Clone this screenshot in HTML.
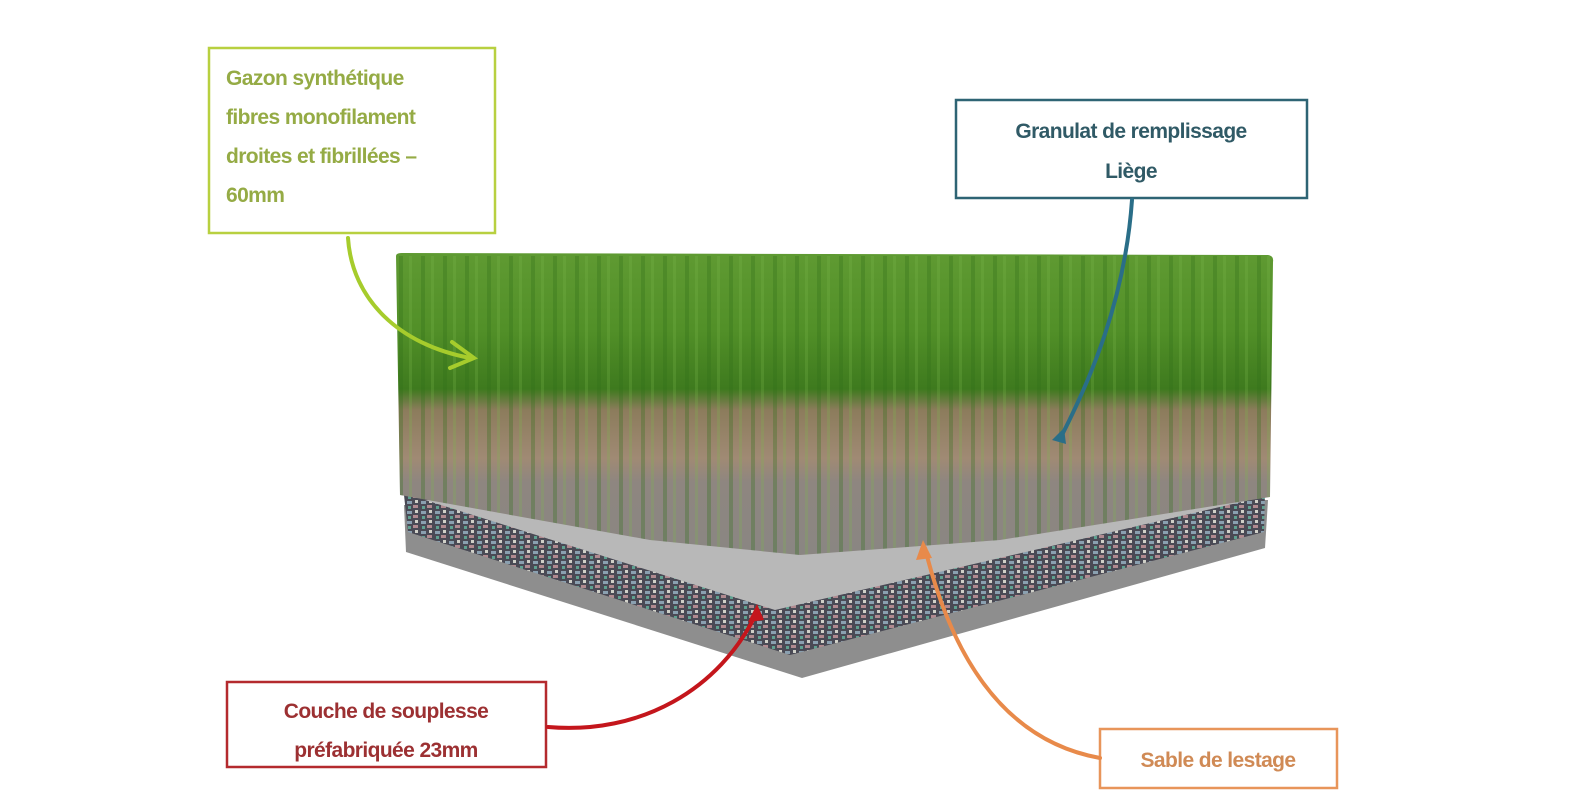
<!DOCTYPE html>
<html><head><meta charset="utf-8"><style>
html,body{margin:0;padding:0;background:#fff;}
svg{display:block;}
text{font-family:"Liberation Sans",sans-serif;font-weight:bold;}
</style></head><body>
<svg width="1592" height="806" viewBox="0 0 1592 806" xmlns="http://www.w3.org/2000/svg">
<defs>
<linearGradient id="g" x1="0" y1="0" x2="0" y2="1">
<stop offset="0" stop-color="#5f9a32"/>
<stop offset="0.25" stop-color="#529028"/>
<stop offset="0.45" stop-color="#3e7a1e"/>
<stop offset="0.52" stop-color="#8c7c5c"/>
<stop offset="0.68" stop-color="#a08a74"/>
<stop offset="0.76" stop-color="#8e8680"/>
<stop offset="1" stop-color="#8a8682"/>
</linearGradient>
<pattern id="blades" width="22" height="300" patternUnits="userSpaceOnUse">
<rect x="3" y="0" width="4" height="300" fill="#2f6e18" opacity="0.3"/>
<rect x="13" y="0" width="3" height="300" fill="#7cb84a" opacity="0.25"/>
</pattern>
<pattern id="speck" width="14" height="10" patternUnits="userSpaceOnUse">
<rect width="14" height="10" fill="#4a4a55"/>
<rect x="1" y="1" width="5" height="3" fill="#8aa0b0"/>
<rect x="7" y="5" width="5" height="3" fill="#b08a90"/>
<rect x="2" y="6" width="3" height="3" fill="#5fa090"/>
<rect x="9" y="0" width="3" height="3" fill="#d0d0c8"/>
</pattern>
</defs>
<polygon points="404,505 1268,500 1265,548 802,678 406,552" fill="#8e8e8e"/>
<polygon points="404,495 1265,492 1264,532 790,655 408,532" fill="url(#speck)"/>
<polygon points="425,500 1250,500 775,610" fill="#b8b8b8"/>
<path d="M396,256 Q396,253 402,253 L1268,255 Q1274,256 1273,262 L1270,497 L1000,540 L800,555 L650,540 L400,495 Z" fill="url(#g)"/>
<path d="M396,256 L1273,256 L1270,497 L1000,540 L800,555 L650,540 L400,495 Z" fill="url(#blades)"/>
<rect x="209" y="48" width="286" height="185" fill="#fff" stroke="#b8d040" stroke-width="2.5"/>
<g fill="#95ab45" font-size="21" letter-spacing="-0.6">
<text x="226" y="85">Gazon synthétique</text>
<text x="226" y="124">fibres monofilament</text>
<text x="226" y="163">droites et fibrillées –</text>
<text x="226" y="202">60mm</text>
</g>
<rect x="956" y="100" width="351" height="98" fill="#fff" stroke="#2e6474" stroke-width="2.5"/>
<g fill="#305a66" font-size="21" letter-spacing="-0.6" text-anchor="middle">
<text x="1131" y="138">Granulat de remplissage</text>
<text x="1131" y="178">Liège</text>
</g>
<rect x="227" y="682" width="319" height="85" fill="#fff" stroke="#b42a2e" stroke-width="2.5"/>
<g fill="#9c3032" font-size="21" letter-spacing="-0.6" text-anchor="middle">
<text x="386" y="718">Couche de souplesse</text>
<text x="386" y="757">préfabriquée 23mm</text>
</g>
<rect x="1100" y="729" width="237" height="59" fill="#fff" stroke="#e8955a" stroke-width="2.5"/>
<text x="1218" y="767" fill="#d08a55" font-size="21" letter-spacing="-0.6" text-anchor="middle">Sable de lestage</text>
<g fill="none" stroke-width="4" stroke-linecap="round">
<path d="M348,238 C352,300 400,345 470,358" stroke="#a6cc2c"/>
<path d="M452,342 L474,358 L450,368" stroke="#a6cc2c"/>
<path d="M1132,200 C1125,300 1090,380 1062,435" stroke="#2a6e88"/>
<path d="M548,727 C640,735 720,690 757,612" stroke="#c4161c"/>
<path d="M1100,758 C1000,740 950,650 925,548" stroke="#e88a4a"/>
</g>
<polygon points="757,604 748,622 764,620" fill="#c4161c"/>
<polygon points="923,540 916,560 932,558" fill="#e88a4a"/>
<polygon points="1064,428 1052,440 1066,444" fill="#2a6e88"/>
</svg>
</body></html>
